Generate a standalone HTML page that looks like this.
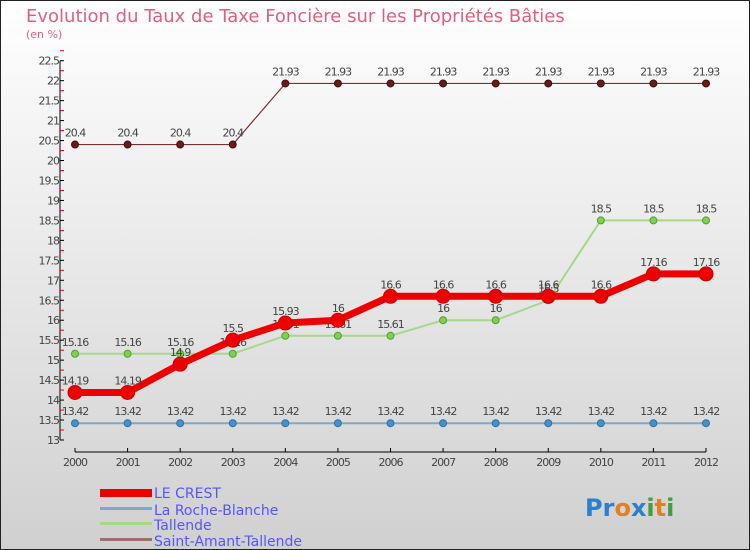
<!DOCTYPE html>
<html><head><meta charset="utf-8"><style>
body{margin:0}
#c{width:750px;height:550px;position:relative;overflow:hidden;background:linear-gradient(#fff,#d0d0d0);font-family:"DejaVu Sans","Liberation Sans",sans-serif}
</style></head><body>
<div id="c">
<svg id="s" width="750" height="550" xmlns="http://www.w3.org/2000/svg">
<rect x="0.5" y="0.5" width="749" height="549" fill="none" stroke="#222" stroke-width="1"/>
<text x="26" y="22" font-size="18" fill="#e0607a">Evolution du Taux de Taxe Foncière sur les Propriétés Bâties</text>
<text x="26" y="38" font-size="11" fill="#e0607a">(en %)</text>
<g id="axes"></g><g id="series"></g>
<g>
<rect x="100" y="489" width="52" height="8" fill="#e00"/>
<text x="154" y="498" font-size="14" fill="#5555ff">LE CREST</text>
<rect x="100" y="507" width="52" height="3" fill="#7fa9c8"/>
<text x="154" y="515" font-size="14" fill="#5555ff">La Roche-Blanche</text>
<rect x="100" y="522" width="52" height="3" fill="#a6d88a"/>
<text x="154" y="530" font-size="14" fill="#5555ff">Tallende</text>
<rect x="100" y="538" width="52" height="3" fill="#9a7070"/>
<text x="154" y="546" font-size="14" fill="#5555ff">Saint-Amant-Tallende</text>
</g>
<text x="585" y="516" font-size="24" font-weight="bold"><tspan fill="#2a7fd0">Pr</tspan><tspan fill="#e08020">o</tspan><tspan fill="#2a7fd0">x</tspan><tspan fill="#40a040">i</tspan><tspan fill="#e08020">t</tspan><tspan fill="#40a040">i</tspan></text>
</svg></div>
<script>
const years=[2000,2001,2002,2003,2004,2005,2006,2007,2008,2009,2010,2011,2012];
const yTicks=[13,13.5,14,14.5,15,15.5,16,16.5,17,17.5,18,18.5,19,19.5,20,20.5,21,21.5,22,22.5];
const leCrest=[14.19,14.19,14.9,15.5,15.93,16,16.6,16.6,16.6,16.6,16.6,17.16,17.16];
const rocheBlanche=[13.42,13.42,13.42,13.42,13.42,13.42,13.42,13.42,13.42,13.42,13.42,13.42,13.42];
const tallende=[15.16,15.16,15.16,15.16,15.61,15.61,15.61,16,16,16.5,18.5,18.5,18.5];
const saintAmant=[20.4,20.4,20.4,20.4,21.93,21.93,21.93,21.93,21.93,21.93,21.93,21.93,21.93];
const NS="http://www.w3.org/2000/svg";
const x=i=>75+i*(706-75)/(years.length-1);
const y=v=>440-(v-13)*(440-60.7)/9.5;
function mk(t,a,p){const e=document.createElementNS(NS,t);for(const k in a)e.setAttribute(k,a[k]);p.appendChild(e);return e;}
const ax=document.getElementById('axes');
let l=mk('line',{x1:60,y1:y(22.5),x2:60,y2:440,stroke:'#000'},ax);


yTicks.forEach(v=>{
 let t=mk('line',{x1:60,x2:64,y1:y(v),y2:y(v),stroke:'#000'},ax);
 
 
 let r=mk('line',{x1:60,x2:64,y1:y(v+0.25),y2:y(v+0.25),stroke:'#e00'},ax);
 
 
 let tx=mk('text',{x:59,y:y(v)+4,'font-size':11,fill:'#444','text-anchor':'end','letter-spacing':'-1'},ax);
 tx.textContent=v;
 
 
});
let xl=mk('line',{x1:75,x2:706,y1:452,y2:452,stroke:'#000'},ax);


years.forEach((yr,i)=>{
 let t=mk('line',{x1:x(i),x2:x(i),y1:448,y2:452,stroke:'#000'},ax);
 
 
 let tx=mk('text',{x:x(i),y:466,'font-size':11,fill:'#444','text-anchor':'middle','letter-spacing':'-1'},ax);
 tx.textContent=yr;
 
 
});
const sg=document.getElementById('series');
function series(name,vals,color,w,r,dot,dotStroke){
 const g=mk('g',{},sg);
 
 
 const p=mk('polyline',{points:vals.map((v,i)=>x(i)+','+y(v)).join(' '),fill:'none',stroke:color,'stroke-width':w,'stroke-linejoin':'round'},g);
 
 
 vals.forEach((v,i)=>{
  const c=mk('circle',{cx:x(i),cy:y(v),r:r,fill:dot,stroke:dotStroke,'stroke-width':1},g);
  
  
  const t=mk('text',{x:x(i),y:y(v)-8,'font-size':11,fill:'#444','text-anchor':'middle','letter-spacing':'-1'},g);
  t.textContent=v;
  
  
 });
}
series('saint-amant-tallende',saintAmant,'#7a3030',1.2,3.5,'#6a1a1a','#4a0a0a');
series('tallende',tallende,'#a6d88a',2,3.5,'#80d050','#50a030');
series('la-roche-blanche',rocheBlanche,'#7fa9c8',2,3.5,'#4a90c8','#2a70a8');
series('le-crest',leCrest,'#ee0000',7,7,'#ee0000','#cc0000');
</script>
</body></html>
